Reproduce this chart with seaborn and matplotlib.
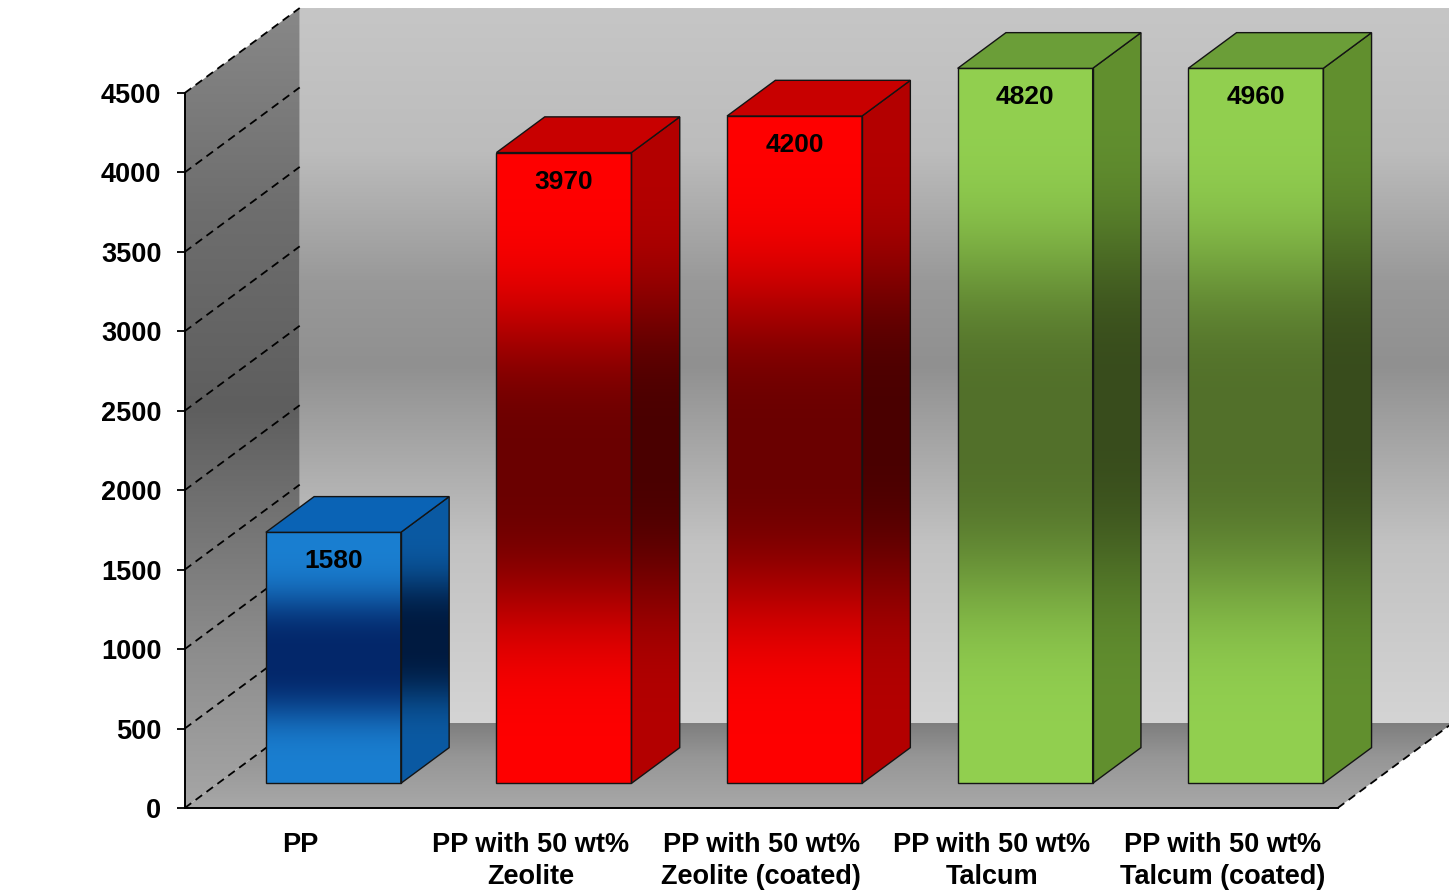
import numpy as np
import pandas as pd
import matplotlib
matplotlib.use("Agg")
import matplotlib.pyplot as plt
import seaborn as sns
from matplotlib.colors import to_rgb
from matplotlib.patches import Polygon
from matplotlib.transforms import Affine2D

# ---- data -------------------------------------------------------------
categories = ["PP", "PP with 50 wt%\nZeolite", "PP with 50 wt%\nZeolite (coated)",
              "PP with 50 wt%\nTalcum", "PP with 50 wt%\nTalcum (coated)"]
modulus = [1580, 3970, 4200, 4820, 4960]
y_ticks = [0, 500, 1000, 1500, 2000, 2500, 3000, 3500, 4000, 4500]

# face colours per bar
front_light = ["#1a7fd1", "#ff0000", "#ff0000", "#92d050", "#92d050"]
front_dark = ["#03276a", "#6a0000", "#6a0000", "#52702a", "#52702a"]
side_light = ["#0b5aa3", "#b40000", "#b40000", "#62902f", "#62902f"]
side_dark = ["#001a40", "#4a0000", "#4a0000", "#384c1c", "#384c1c"]
top_colors = ["#0a63b5", "#c80000", "#c80000", "#6b9e38", "#6b9e38"]

# ---- geometry of the oblique 3-D box -----------------------------------
W_PX, H_PX, DPI = 1449, 891, 100
PX_CAT = 230.6            # pixels per category slot
PX_VAL = 715 / 4500       # pixels per value unit
X0_PX, Y0_PX = 184.7, 808  # front-left floor corner
DEPTH_X = 115 / PX_CAT    # full-depth offset in category units
DEPTH_Y = 85 / PX_VAL     # full-depth offset in value units
Y_MAX = 4500
BAR_W = 135 / PX_CAT
D_FRONT, D_BACK = 0.29, 0.71

sns.set_theme(style="white")
plt.rcParams["font.family"] = ["Liberation Sans", "DejaVu Sans"]

fig = plt.figure(figsize=(W_PX / DPI, H_PX / DPI), dpi=DPI)
fig.patch.set_facecolor("white")
ax = fig.add_axes([X0_PX / W_PX, (H_PX - Y0_PX) / H_PX,
                   (W_PX - X0_PX) / W_PX, Y0_PX / H_PX])
ax.set_facecolor("none")
xlim = (-0.5, -0.5 + (W_PX - X0_PX) / PX_CAT)
ylim = (0, Y0_PX / PX_VAL)


def ramp(stops, n=256):
    """Vertical colour ramp (bottom -> top) from (t, colour) stops."""
    t = np.linspace(0, 1, n)
    ts = [s[0] for s in stops]
    cols = np.array([to_rgb(s[1]) for s in stops])
    rgb = np.stack([np.interp(t, ts, cols[:, k]) for k in range(3)], axis=1)
    return rgb[:, None, :]


def band(light, dark, ylo, yhi, yc, sigma, n=256):
    """Light-dark-light band centred on yc over the range ylo..yhi."""
    y = np.linspace(ylo, yhi, n)
    f = np.exp(-np.abs((y - yc) / sigma) ** 3)
    l, d = np.array(to_rgb(light)), np.array(to_rgb(dark))
    rgb = l[None, :] * (1 - f[:, None]) + d[None, :] * f[:, None]
    return rgb[:, None, :]


def gradient_fill(img, extent, clip, z):
    im = ax.imshow(img, origin="lower", extent=extent, aspect="auto",
                   interpolation="bilinear", zorder=z)
    im.set_clip_path(clip)
    return im


# ---- walls and floor ---------------------------------------------------
x_left, x_right = -0.5, 4.5
back = Polygon([(x_left + DEPTH_X, DEPTH_Y), (x_right + DEPTH_X + 1, DEPTH_Y),
                (x_right + DEPTH_X + 1, Y_MAX + DEPTH_Y), (x_left + DEPTH_X, Y_MAX + DEPTH_Y)],
               closed=True, facecolor="none", edgecolor="none", zorder=1)
ax.add_patch(back)
gradient_fill(ramp([(0, "#d4d4d4"), (0.25, "#c2c2c2"), (0.5, "#909090"),
                    (0.62, "#999999"), (0.8, "#bcbcbc"), (1, "#c6c6c6")]),
              [x_left + DEPTH_X, x_right + DEPTH_X + 1, DEPTH_Y, Y_MAX + DEPTH_Y], back, 1)

left = Polygon([(x_left, 0), (x_left + DEPTH_X, DEPTH_Y),
                (x_left + DEPTH_X, Y_MAX + DEPTH_Y), (x_left, Y_MAX)],
               closed=True, facecolor="none", edgecolor="none", zorder=1)
ax.add_patch(left)
gradient_fill(ramp([(0, "#a6a6a6"), (0.2, "#8c8c8c"), (0.5, "#5e5e5e"),
                    (0.75, "#6e6e6e"), (1, "#888888")]),
              [x_left, x_left + DEPTH_X, 0, Y_MAX + DEPTH_Y], left, 1)

floor = Polygon([(x_left, 0), (x_right, 0), (x_right + DEPTH_X, DEPTH_Y),
                 (x_left + DEPTH_X, DEPTH_Y)],
                closed=True, facecolor="none", edgecolor="none", zorder=1)
ax.add_patch(floor)
gradient_fill(ramp([(0, "#a8a8a8"), (0.6, "#969696"), (1, "#7e7e7e")]),
              [x_left, x_right + DEPTH_X, 0, DEPTH_Y], floor, 1)

# dashed gridlines on the side wall, plus the right floor edge
for t in y_ticks:
    ax.plot([x_left, x_left + DEPTH_X], [t, t + DEPTH_Y], color="black",
            lw=1.3, ls=(0, (4.5, 3)), zorder=2, clip_on=False)
ax.plot([x_right, x_right + DEPTH_X], [0, DEPTH_Y], color="black",
        lw=1.3, ls=(0, (4.5, 3)), zorder=2, clip_on=False)

# ---- bars --------------------------------------------------------------
df = pd.DataFrame({"slot": np.arange(len(categories)),
                   "height": np.minimum(modulus, Y_MAX)})
n_before = len(ax.patches)
sns.barplot(data=df, x="slot", y="height", native_scale=True, width=BAR_W,
            color="#888888", errorbar=None, ax=ax, zorder=4)
bars = sorted(ax.patches[n_before:], key=lambda p: p.get_x())

sx, sy = D_FRONT * DEPTH_X, D_FRONT * DEPTH_Y
ddx, ddy = (D_BACK - D_FRONT) * DEPTH_X, (D_BACK - D_FRONT) * DEPTH_Y
edge = "#141414"
for i, p in enumerate(bars):
    p.set_transform(Affine2D().translate(sx, sy) + ax.transData)
    p.set_facecolor("none")
    p.set_edgecolor(edge)
    p.set_linewidth(1.0)
    x0, w, h = p.get_x() + sx, p.get_width(), p.get_height()
    y0, y1 = sy, sy + h
    yc, sig = (y0 + y1) / 2, 0.25 * h

    # front face gradient
    gradient_fill(band(front_light[i], front_dark[i], y0, y1, yc, sig),
                  [x0, x0 + w, y0, y1], p, 3)

    # right side face
    xr = x0 + w
    side = Polygon([(xr, y0), (xr + ddx, y0 + ddy), (xr + ddx, y1 + ddy), (xr, y1)],
                   closed=True, facecolor="none", edgecolor=edge, lw=1.0, zorder=4)
    ax.add_patch(side)
    gradient_fill(band(side_light[i], side_dark[i], y0, y1 + ddy, yc + ddy / 2, sig),
                  [xr, xr + ddx, y0, y1 + ddy], side, 3)

    # top face
    top = Polygon([(x0, y1), (xr, y1), (xr + ddx, y1 + ddy), (x0 + ddx, y1 + ddy)],
                  closed=True, facecolor=top_colors[i], edgecolor=edge, lw=1.0, zorder=4)
    ax.add_patch(top)

    ax.text(x0 + w / 2, y1 - 29 / PX_VAL, f"{modulus[i]}", ha="center", va="center",
            fontsize=19, fontweight="bold", color="black", zorder=6)

# ---- axes --------------------------------------------------------------
ax.set_xlim(xlim)
ax.set_ylim(ylim)
ax.grid(False)
ax.set_yticks(y_ticks)
ax.set_yticklabels([str(t) for t in y_ticks])
ax.set_xticks(range(len(categories)))
ax.set_xticklabels(categories, linespacing=1.3)
ax.set_xlabel("")
ax.set_ylabel("")
ax.tick_params(axis="y", direction="out", length=5.8, width=1.3, pad=11,
               labelsize=19.5, colors="black", left=True)
ax.tick_params(axis="x", length=0, pad=17, labelsize=19.5, colors="black")
for lab in ax.get_xticklabels() + ax.get_yticklabels():
    lab.set_fontweight("bold")
for s in ("top", "right"):
    ax.spines[s].set_visible(False)
ax.spines["left"].set_bounds(0, Y_MAX)
ax.spines["bottom"].set_bounds(x_left, x_right)
for s in ("left", "bottom"):
    ax.spines[s].set_color("black")
    ax.spines[s].set_linewidth(1.4)
    ax.spines[s].set_zorder(5)

fig.savefig("out.png", dpi=DPI, facecolor="white")
